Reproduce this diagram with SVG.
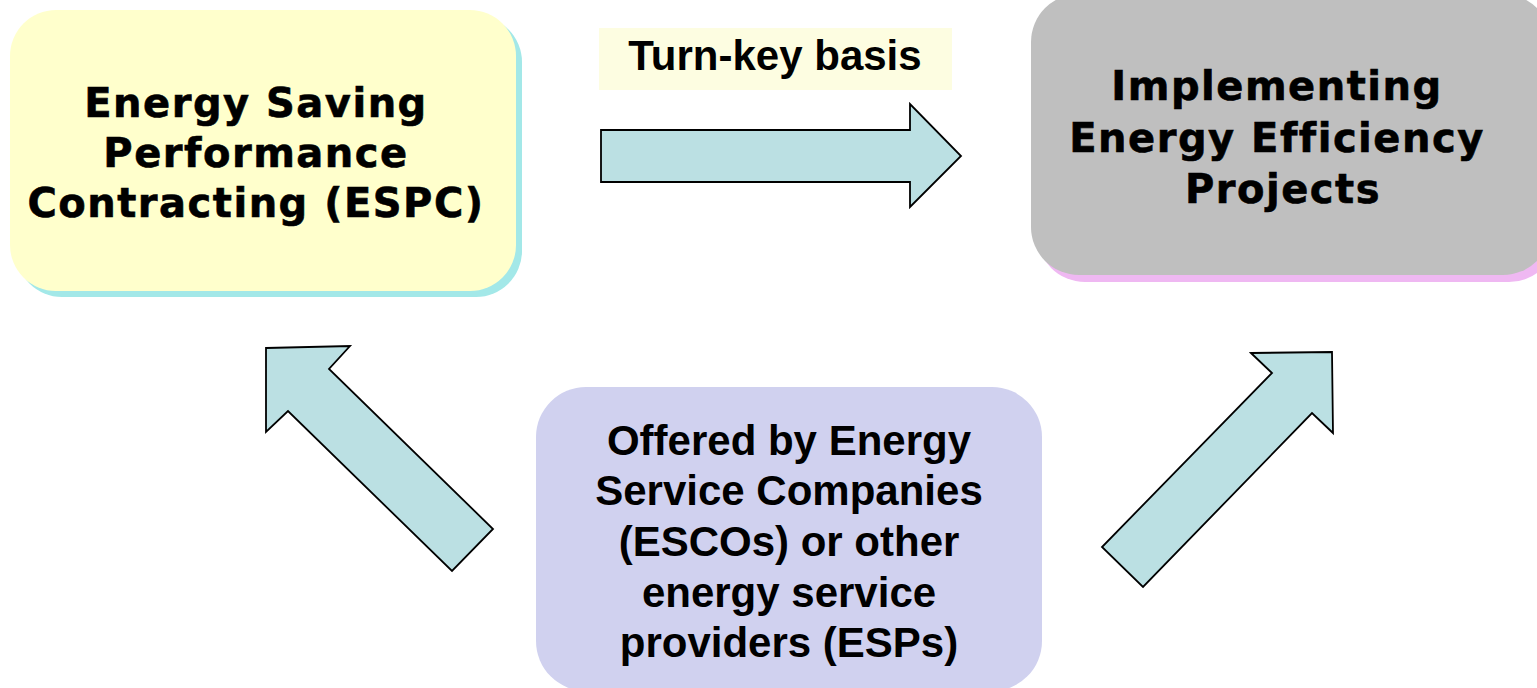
<svg xmlns="http://www.w3.org/2000/svg" width="1537" height="688" viewBox="0 0 1537 688">
  <style>
    .wide { font-family: "DejaVu Sans", Verdana, sans-serif; font-weight: bold; font-size: 40px; letter-spacing: 1.5px; text-anchor: middle; fill: #000; stroke: #000; stroke-width: 0.6px; }
    .arial { font-family: "Liberation Sans", Arial, sans-serif; font-weight: bold; font-size: 42px; text-anchor: middle; fill: #000; }
    .arrow { fill: #BBE0E3; stroke: #000; stroke-width: 1.8; stroke-linejoin: miter; }
  </style>
  <rect width="1537" height="688" fill="#FFFFFF"/>

  <!-- ESPC box with cyan shadow -->
  <g id="espc">
    <rect x="16" y="16" width="506" height="281" rx="46" fill="#A3E8E8"/>
    <rect x="10" y="10" width="506" height="281" rx="46" fill="#FFFFCC"/>
    <text class="wide" x="256" y="117">Energy Saving</text>
    <text class="wide" x="256" y="167">Performance</text>
    <text class="wide" x="256" y="217">Contracting (ESPC)</text>
  </g>

  <!-- Projects box with pink shadow -->
  <g id="projects">
    <rect x="1037" y="1" width="520" height="281" rx="48" fill="#EFB8F2"/>
    <rect x="1031" y="-6" width="520" height="281" rx="48" fill="#BFBFBF"/>
    <text class="wide" x="1277" y="100">Implementing</text>
    <text class="wide" x="1277" y="152">Energy Efficiency</text>
    <text class="wide" x="1283" y="203">Projects</text>
  </g>

  <!-- Provider box -->
  <g id="providers">
    <rect x="536" y="387" width="506" height="304" rx="50" fill="#D0D1EF"/>
    <text class="arial" x="789" y="455">Offered by Energy</text>
    <text class="arial" x="789" y="505">Service Companies</text>
    <text class="arial" x="789" y="556">(ESCOs) or other</text>
    <text class="arial" x="789" y="607">energy service</text>
    <text class="arial" x="789" y="657">providers (ESPs)</text>
  </g>

  <!-- Label over the horizontal arrow -->
  <g id="turnkey">
    <rect x="599" y="28" width="353" height="62" fill="#FDFDE1"/>
    <text class="arial" x="775" y="70">Turn-key basis</text>
  </g>

  <!-- Block arrows -->
  <g id="connectors">
    <polygon class="arrow" points="601,130 910,130 910,104 961,156 910,207 910,182 601,182"/>
    <polygon class="arrow" points="266,348 350,346 329,369 493,529 452,571 288,411 266,432"/>
    <polygon class="arrow" points="1251,353 1332,352 1333,433 1312,413 1143,587 1102,547 1272,373"/>
  </g>
</svg>
